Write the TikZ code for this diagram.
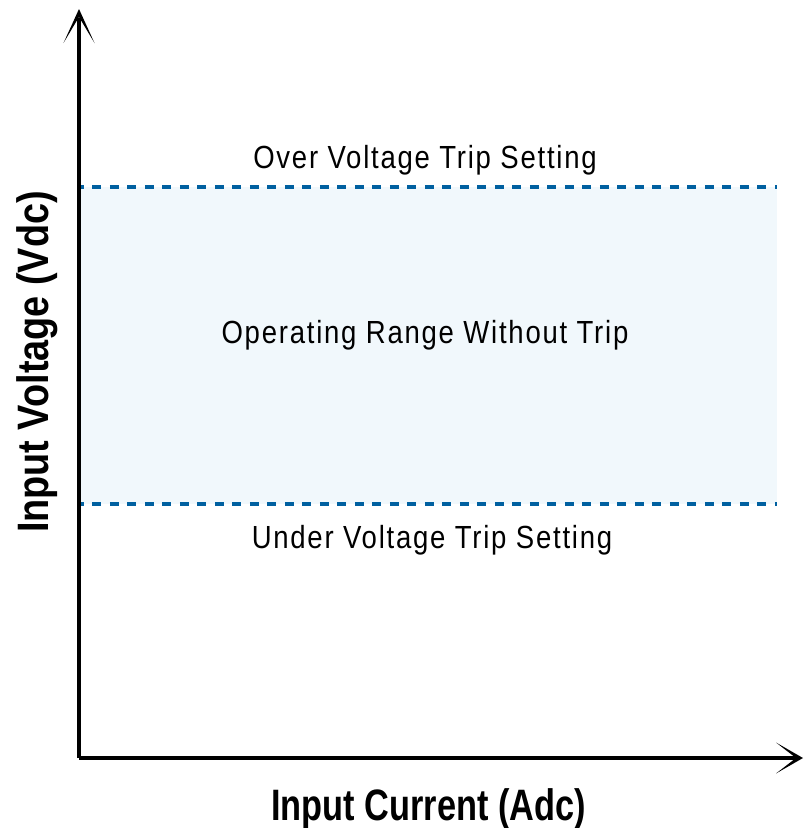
\documentclass[tikz,border=0pt]{standalone}
\usepackage{fontspec}
\setmainfont{Liberation Sans}
\newfontfamily\bandfont{Liberation Sans}[FakeStretch=0.86, LetterSpace=5.5]
\newfontfamily\hlabfont{Liberation Sans}[FakeStretch=0.78]
\newfontfamily\vlabfont{Liberation Sans}[FakeStretch=0.86]
\definecolor{trip}{RGB}{0,96,160}
\definecolor{band}{RGB}{241,248,252}
\tikzset{
  axisline/.style={line width=3.2pt, draw=black},
  tipfill/.style={fill=black},
  tripline/.style={line width=4.5pt, draw=trip, dash pattern=on 9pt off 8.5pt, dash phase=4.2pt},
  bandtext/.style={font=\bandfont\fontsize{32}{36}\selectfont, anchor=base, inner sep=0pt},
  hlab/.style={font=\hlabfont\bfseries\fontsize{44}{50}\selectfont, anchor=base, inner sep=0pt},
  vlab/.style={font=\vlabfont\bfseries\fontsize{44}{50}\selectfont, anchor=base, inner sep=0pt, rotate=90}
}
\begin{document}
\begin{tikzpicture}[x=1pt,y=-1pt]
\useasboundingbox (0,0) rectangle (804,828);
\coordinate (o) at (79,758);
\coordinate (ytip) at (79,9);
\coordinate (yend) at (79,18);
\coordinate (xtip) at (803,758);
\coordinate (xend) at (796,758);
\coordinate (ovl) at (79,187);
\coordinate (ovr) at (777,187);
\coordinate (uvl) at (79,504);
\coordinate (uvr) at (777,504);
\fill[band] (ovl) rectangle (uvr);
\draw[tripline] (ovl) -- (ovr);
\draw[tripline] (uvl) -- (uvr);
\draw[axisline] (o) -- (yend);
\draw[axisline] (o) -- (xend);
\fill[tipfill] (ytip) -- (63.5,43) -- (79,17) -- (94.5,43) -- cycle;
\fill[tipfill] (xtip) -- (776,742.5) -- (796,758) -- (776,773.5) -- cycle;
\node[bandtext] (ov) at (425,168) {Over Voltage Trip Setting};
\node[bandtext] (op) at (425,343) {Operating Range Without Trip};
\node[bandtext] (uv) at (432,548) {Under Voltage Trip Setting};
\node[hlab] (xl) at (428.5,820) {Input Current (Adc)};
\node[vlab] (yl) at (48,362) {Input Voltage (Vdc)};
\end{tikzpicture}
\end{document}
